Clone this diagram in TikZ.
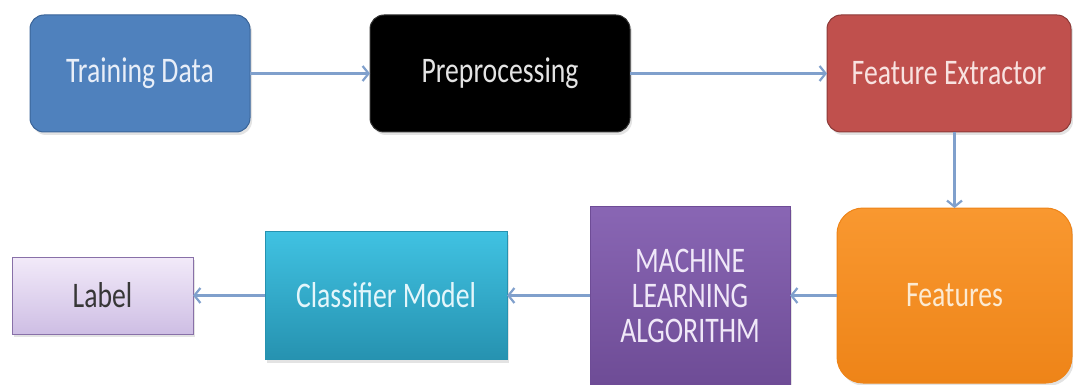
\documentclass[tikz,border=0pt]{standalone}
\usepackage{fontspec}
\setmainfont{Carlito}[FakeStretch=0.77]
\usepackage{xcolor}
\usepackage{tikz}
\usetikzlibrary{arrows.meta,positioning,shadows}
\definecolor{Steel}{RGB}{79,129,189}
\definecolor{SteelEdge}{RGB}{58,100,152}
\definecolor{Brick}{RGB}{192,80,77}
\definecolor{BrickEdge}{RGB}{140,58,56}
\definecolor{TangerineTop}{RGB}{249,152,48}
\definecolor{TangerineLow}{RGB}{238,132,24}
\definecolor{GrapeTop}{RGB}{137,102,180}
\definecolor{GrapeLow}{RGB}{110,76,150}
\definecolor{AquaTop}{RGB}{64,194,226}
\definecolor{AquaLow}{RGB}{38,146,176}
\definecolor{LilacTop}{RGB}{242,234,249}
\definecolor{LilacLow}{RGB}{206,190,228}
\definecolor{LilacEdge}{RGB}{136,112,168}
\definecolor{Wire}{RGB}{128,160,204}
\definecolor{Ink}{RGB}{55,55,55}
\tikzset{
  stepbox/.style={draw,line width=1pt,inner sep=0pt,outer sep=0pt,align=center,font=\fontsize{36pt}{35pt}\selectfont,drop shadow={opacity=0.22,shadow xshift=2pt,shadow yshift=-3pt}},
  bluebox/.style={stepbox,rounded corners=14pt,fill=Steel,draw=SteelEdge,text={rgb,255:red,232;green,238;blue,248},minimum width=220pt,minimum height=117pt},
  blackbox/.style={stepbox,rounded corners=14pt,fill=black,draw=black!80,text={rgb,255:red,228;green,228;blue,228},minimum width=260pt,minimum height=117pt},
  redbox/.style={stepbox,rounded corners=14pt,fill=Brick,draw=BrickEdge,text={rgb,255:red,248;green,226;blue,224},minimum width=244pt,minimum height=117pt},
  orangebox/.style={stepbox,rounded corners=26pt,top color=TangerineTop,bottom color=TangerineLow,draw=TangerineLow,text={rgb,255:red,252;green,234;blue,210},minimum width=235pt,minimum height=175pt},
  purplebox/.style={stepbox,top color=GrapeTop,bottom color=GrapeLow,draw=GrapeLow,text={rgb,255:red,240;green,232;blue,248},minimum width=200pt,minimum height=178pt},
  cyanbox/.style={stepbox,top color=AquaTop,bottom color=AquaLow,draw=AquaLow,text={rgb,255:red,228;green,246;blue,251},minimum width=242pt,minimum height=128pt},
  lilacbox/.style={stepbox,top color=LilacTop,bottom color=LilacLow,draw=LilacEdge,text=Ink,minimum width=181pt,minimum height=77pt},
  flow/.style={-{Straight Barb[length=6pt,width=15pt]},line width=2.2pt,draw=Wire}
}
\begin{document}
\begin{tikzpicture}[x=1pt,y=1pt]
\useasboundingbox (0,0) rectangle (1073,-385);
\node[bluebox] (train) at (140,-73.5) {Training Data};
\node[blackbox,right=120pt of train] (prep) {Preprocessing};
\node[redbox,right=197pt of prep] (fext) {Feature Extractor};
\node[orangebox,below=76pt of fext,xshift=5.5pt] (feat) {Features};
\node[purplebox,left=47pt of feat] (mla) {MACHINE\\LEARNING\\ALGORITHM};
\node[cyanbox,left=83pt of mla] (clf) {Classifier Model};
\node[lilacbox,left=72pt of clf] (lab) {Label};
\draw[flow] (train)--(prep);
\draw[flow] (prep)--(fext);
\draw[flow] (feat.north |- fext.south)--(feat.north);
\draw[flow] (feat)--(mla);
\draw[flow] (mla)--(clf);
\draw[flow] (clf)--(lab);
\end{tikzpicture}
\end{document}
